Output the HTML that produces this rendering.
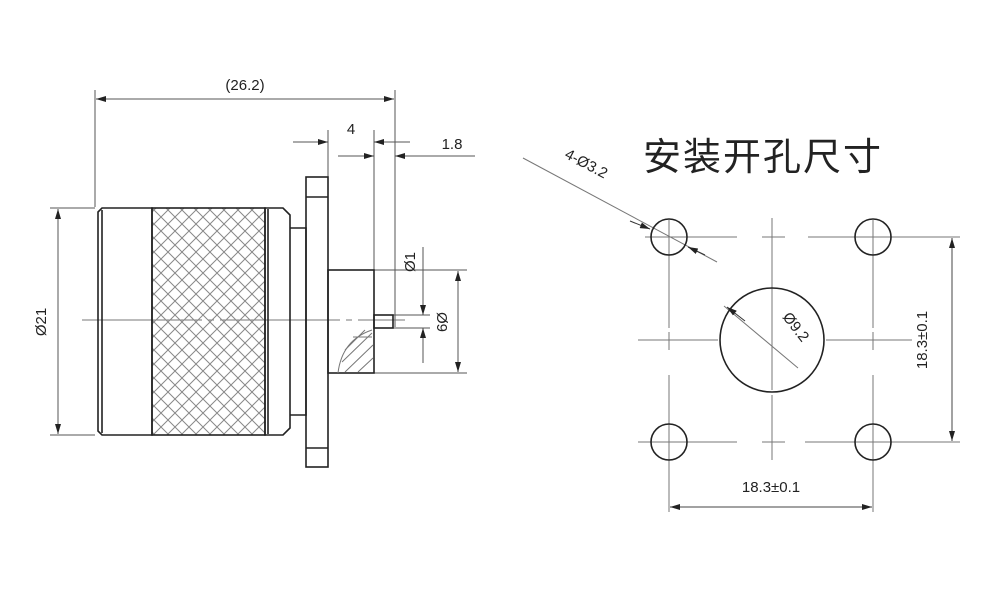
<!DOCTYPE html>
<html><head><meta charset="utf-8"><style>
html,body{margin:0;padding:0;background:#fff;width:1000px;height:589px;overflow:hidden}
svg{display:block}
text{font-family:"Liberation Sans","Noto Sans CJK SC",sans-serif;fill:#222}
</style></head><body>
<svg width="1000" height="589" viewBox="0 0 1000 589" xmlns="http://www.w3.org/2000/svg">
<defs>
<pattern id="kn" width="14" height="14" patternUnits="userSpaceOnUse">
<path d="M0 0L14 14M14 0L0 14" stroke="#888" stroke-width="1"/>
</pattern>
<marker id="a" viewBox="0 0 10 6" refX="10" refY="3" markerWidth="10" markerHeight="6" orient="auto-start-reverse" markerUnits="userSpaceOnUse">
<path d="M0 0L10 3L0 6Z" fill="#222"/>
</marker>
</defs>
<g stroke="#555" stroke-width="1" fill="none">
<line x1="95" y1="90" x2="95" y2="207"/>
<line x1="395" y1="90" x2="395" y2="327"/>
<line x1="96" y1="99" x2="394" y2="99" marker-start="url(#a)" marker-end="url(#a)"/>
<line x1="328" y1="130" x2="328" y2="177"/>
<line x1="374" y1="130" x2="374" y2="270"/>
<line x1="293" y1="142" x2="328" y2="142" marker-end="url(#a)"/>
<line x1="410" y1="142" x2="374" y2="142" marker-end="url(#a)"/>
<line x1="338" y1="156" x2="374" y2="156" marker-end="url(#a)"/>
<line x1="475" y1="156" x2="395" y2="156" marker-end="url(#a)"/>
<line x1="50" y1="208" x2="95" y2="208"/>
<line x1="50" y1="435" x2="95" y2="435"/>
<line x1="58" y1="209" x2="58" y2="434" marker-start="url(#a)" marker-end="url(#a)"/>
<line x1="393" y1="315" x2="430" y2="315"/>
<line x1="393" y1="328" x2="430" y2="328"/>
<line x1="423" y1="247" x2="423" y2="315" marker-end="url(#a)"/>
<line x1="423" y1="363" x2="423" y2="328" marker-end="url(#a)"/>
<line x1="374" y1="270" x2="467" y2="270"/>
<line x1="374" y1="373" x2="467" y2="373"/>
<line x1="458" y1="271" x2="458" y2="372" marker-start="url(#a)" marker-end="url(#a)"/>
<line x1="82" y1="320" x2="405" y2="320" stroke="#777" stroke-dasharray="120,6,6,6"/>
</g>
<g stroke="#222" stroke-width="1.6" fill="none">
<rect x="152" y="208" width="113" height="227" fill="url(#kn)"/>
<path d="M102 208H152V435H102L98 431V212Z"/>
<line x1="102" y1="210" x2="102" y2="433"/>
<path d="M265 208H283L290 215V428L283 435H265Z"/>
<line x1="268" y1="209" x2="268" y2="434"/>
<path d="M290 228H306V415H290"/>
<rect x="306" y="177" width="22" height="290"/>
<line x1="306" y1="197" x2="328" y2="197"/>
<line x1="306" y1="448" x2="328" y2="448"/>
<rect x="328" y="270" width="46" height="103"/>
<rect x="374" y="315" width="19" height="13"/>
</g>
<g stroke="#777" stroke-width="1" fill="none">
<path d="M338 373Q342 340 372 330"/>
<path d="M353 337L372 337M345 350L365 330M342 362L372 333M345 372L373 345M358 372L373 358"/>
</g>
<g font-size="15">
<text x="245" y="90" text-anchor="middle">(26.2)</text>
<text x="351" y="134" text-anchor="middle">4</text>
<text x="452" y="149" text-anchor="middle">1.8</text>
<text transform="translate(46,322) rotate(-90)" text-anchor="middle">Ø21</text>
<text transform="translate(415,262) rotate(-90)" text-anchor="middle">Ø1</text>
<text transform="translate(437,322) rotate(90)" text-anchor="middle">Ø9</text>
</g>
<text x="763" y="170" font-size="38" letter-spacing="2" text-anchor="middle" fill="#222">安装开孔尺寸</text>
<g stroke="#777" stroke-width="1" fill="none">
<path d="M645 237H737M762 237H785M808 237H960"/>
<path d="M638 442H737M762 442H785M805 442H960"/>
<path d="M638 340H718M826 340H912"/>
<path d="M669 220V328M669 332V350M669 375V512"/>
<path d="M873 220V328M873 332V350M873 375V512"/>
<path d="M772 218V292M772 290V390M772 395V460"/>
<line x1="523" y1="158" x2="717" y2="262"/>
<line x1="724" y1="306" x2="798" y2="368"/>
<line x1="952" y1="238" x2="952" y2="441" marker-start="url(#a)" marker-end="url(#a)" stroke="#444"/>
<line x1="670" y1="507" x2="872" y2="507" marker-start="url(#a)" marker-end="url(#a)" stroke="#444"/>
<line x1="630" y1="221" x2="650" y2="229" marker-end="url(#a)" stroke="#333"/>
<line x1="705" y1="255" x2="688" y2="247" marker-end="url(#a)" stroke="#333"/>
<line x1="745" y1="321" x2="727" y2="307" marker-end="url(#a)" stroke="#333"/>
</g>
<g stroke="#222" stroke-width="1.6" fill="none">
<circle cx="669" cy="237" r="18"/>
<circle cx="873" cy="237" r="18"/>
<circle cx="669" cy="442" r="18"/>
<circle cx="873" cy="442" r="18"/>
<circle cx="772" cy="340" r="52"/>
</g>
<g font-size="15">
<text transform="translate(584,168) rotate(28)" text-anchor="middle">4-Ø3.2</text>
<text transform="translate(792,330) rotate(52)" text-anchor="middle">Ø9.2</text>
<text transform="translate(927,340) rotate(-90)" text-anchor="middle">18.3±0.1</text>
<text x="771" y="492" text-anchor="middle">18.3±0.1</text>
</g>
</svg>
</body></html>
